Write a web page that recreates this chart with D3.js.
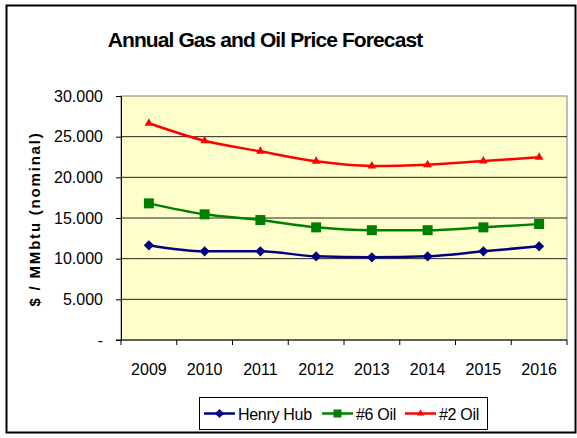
<!DOCTYPE html>
<html>
<head>
<meta charset="utf-8">
<script src="https://cdn.jsdelivr.net/npm/d3@7"></script>
<style>
  body { margin: 0; background: #fff; }
  text { font-family: "Liberation Sans", Arial, sans-serif; }
</style>
</head>
<body>
<svg id="chart" width="577" height="438"></svg>
<script>
const years = ['2009', '2010', '2011', '2012', '2013', '2014', '2015', '2016'];
const henryHub = [11.64, 10.9, 10.9, 10.29, 10.17, 10.29, 10.9, 11.52];
const oil6 = [16.8, 15.45, 14.75, 13.85, 13.5, 13.5, 13.85, 14.26];
const oil2 = [26.65, 24.5, 23.2, 21.97, 21.4, 21.56, 22.0, 22.46];
const yTicks = [0, 5, 10, 15, 20, 25, 30];
const seriesNames = ['Henry Hub', '#6 Oil', '#2 Oil'];

const series = [
    { name: seriesNames[0], values: henryHub, color: '#000080', symbol: d3.symbolSquare, size: 52, rot: 45, lsize: 40 },
    { name: seriesNames[1], values: oil6, color: '#008000', symbol: d3.symbolSquare, size: 100, rot: 0, lsize: 64 },
    { name: seriesNames[2], values: oil2, color: '#ff0000', symbol: d3.symbolTriangle, size: 32, rot: 0, lsize: 22 }
];

const svg = d3.select('#chart');

// outer frame
svg.append('rect')
    .attr('x', 6.5).attr('y', 5.5)
    .attr('width', 569).attr('height', 427)
    .attr('fill', '#fff')
    .attr('stroke', '#000')
    .attr('stroke-width', 2);

const margin = {top: 96, right: 10, bottom: 98, left: 121};
const plotW = 567 - margin.left, plotH = 340 - margin.top;

svg.append('text')
    .attr('x', 265).attr('y', 47)
    .attr('text-anchor', 'middle')
    .style('font-size', '21px')
    .style('font-weight', 'bold')
    .style('letter-spacing', '-0.9px')
    .text('Annual Gas and Oil Price Forecast');

const g = svg.append('g').attr('transform', `translate(${margin.left},${margin.top})`);

const x = d3.scaleBand().domain(years).range([0, plotW]);
const y = d3.scaleLinear().domain([0, 30]).range([plotH, 0]);

g.append('rect')
    .attr('width', plotW).attr('height', plotH)
    .attr('fill', '#ffffcc')
    .attr('stroke', '#808080');

// gridlines
g.selectAll('.grid')
    .data(yTicks.slice(1, -1))
    .join('line')
    .attr('x1', 0).attr('x2', plotW)
    .attr('y1', d => y(d)).attr('y2', d => y(d))
    .attr('stroke', '#222')
    .attr('stroke-width', 1);

// y axis
const yAxis = g.append('g')
    .call(d3.axisLeft(y).tickValues(yTicks).tickSize(5).tickPadding(13)
        .tickFormat(d => d === 0 ? '-' : d3.format('.3f')(d)));
yAxis.select('.domain').attr('stroke', '#000');
yAxis.selectAll('text').style('font-size', '16px').attr('fill', '#000');

// x axis with ticks at category boundaries
const xAxisG = g.append('g').attr('transform', `translate(0,${plotH})`);
xAxisG.append('line').attr('x1', -5).attr('x2', plotW).attr('stroke', '#000');
const bounds = d3.range(years.length + 1).map(i => i * x.step());
xAxisG.selectAll('.xt')
    .data(bounds)
    .join('line')
    .attr('x1', d => d).attr('x2', d => d)
    .attr('y1', 0).attr('y2', 5)
    .attr('stroke', '#000');
xAxisG.selectAll('.xl')
    .data(years)
    .join('text')
    .attr('x', d => x(d) + x.bandwidth() / 2)
    .attr('y', 35)
    .attr('text-anchor', 'middle')
    .style('font-size', '16px')
    .text(d => d);

// y axis title
svg.append('text')
    .attr('transform', 'translate(40,219) rotate(-90)')
    .attr('text-anchor', 'middle')
    .style('font-size', '15px')
    .style('font-weight', 'bold')
    .style('letter-spacing', '1.8px')
    .text('$ / MMbtu (nominal)');

const line = d3.line()
    .x((d, i) => x(years[i]) + x.bandwidth() / 2)
    .y(d => y(d))
    .curve(d3.curveMonotoneX);

series.forEach(s => {
    g.append('path')
        .attr('d', line(s.values))
        .attr('fill', 'none')
        .attr('stroke', s.color)
        .attr('stroke-width', 2.5);
    g.selectAll(null)
        .data(s.values)
        .join('path')
        .attr('transform', (d, i) => `translate(${x(years[i]) + x.bandwidth() / 2},${y(d)}) rotate(${s.rot})`)
        .attr('d', d3.symbol(s.symbol, s.size))
        .attr('fill', s.color);
});

// legend
const legend = svg.append('g').attr('transform', 'translate(199.5,397.5)');
legend.append('rect')
    .attr('width', 288).attr('height', 32)
    .attr('fill', '#fff').attr('stroke', '#000');
const legendX = [4.5, 122.5, 205.5];
series.forEach((s, i) => {
    const lg = legend.append('g').attr('transform', `translate(${legendX[i]},16)`);
    lg.append('line').attr('x1', 0).attr('x2', 31).attr('stroke', s.color).attr('stroke-width', 2.5);
    lg.append('path').attr('transform', `translate(15.5,0) rotate(${s.rot})`).attr('d', d3.symbol(s.symbol, s.lsize)).attr('fill', s.color);
    lg.append('text').attr('x', 34).attr('y', 6).style('font-size', '16px').style('letter-spacing', '-0.3px').text(s.name);
});
</script>
</body>
</html>
